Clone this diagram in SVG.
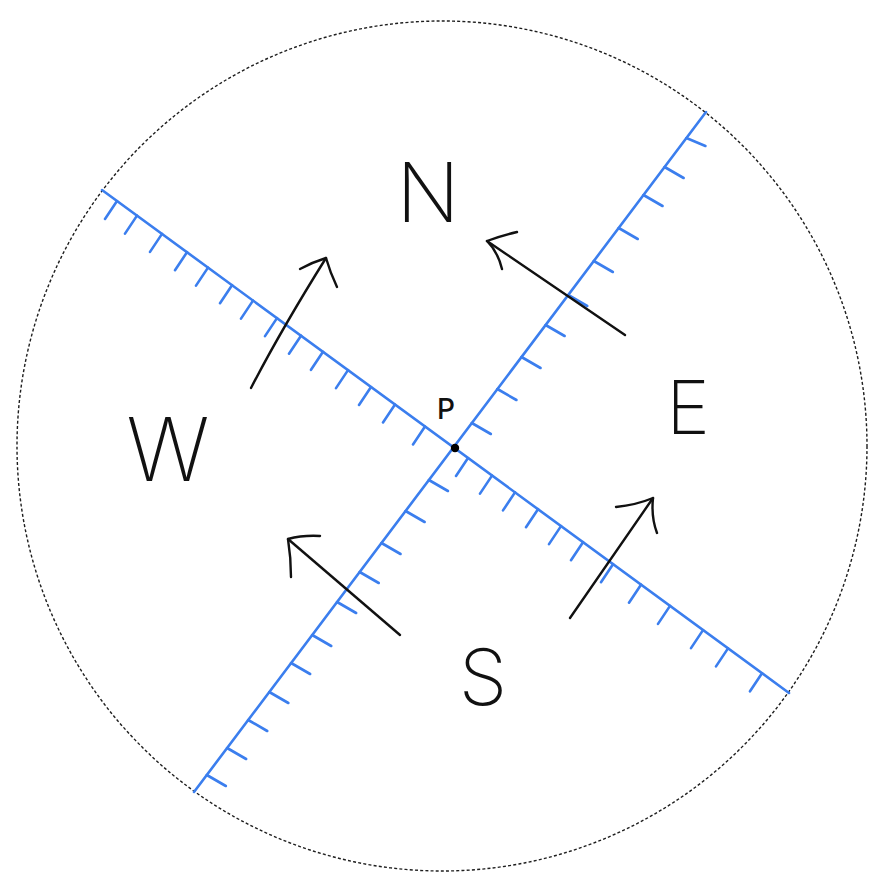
<svg xmlns="http://www.w3.org/2000/svg" width="883" height="886" viewBox="0 0 883 886">
<style>
.bound{fill:none;stroke:#1e1e1e;stroke-width:1.4;stroke-dasharray:3 2.2}
.fault{fill:none;stroke:#3b7eee;stroke-width:2.6;stroke-linecap:round;stroke-linejoin:round}
.arrow{fill:none;stroke:#111;stroke-width:2.4;stroke-linecap:round;stroke-linejoin:round}
.lbl{font-family:Inter,"Liberation Sans",sans-serif;font-weight:200;fill:#111;text-anchor:middle}
</style>
<rect width="883" height="886" fill="#fff"/>
<circle id="boundary" class="bound" cx="442" cy="446" r="425"/>
<g id="fault-nw-se">
<path class="fault" d="M102 190 L789 693"/>
<path class="fault" d="M117 201l-12 18M137 215.6l-12 18M162 233.9l-12 18M187 252.2l-12 18M208 267.6l-12 18M232 285.2l-12 18M253 300.6l-12 18M277 318.1l-12 18M301 335.7l-12 18M323 351.8l-12 18M348 370.1l-12 18M371 387l-12 18M395 404.5l-12 18M425 426.5l-12 18M468 458l-12 18M492 475.6l-12 18M515 492.4l-12 18M538 509.2l-12 18M561 526.1l-12 18M583 542.2l-12 18M613 564.2l-12 18M641 584.7l-12 18M670 605.9l-12 18M703 630.1l-12 18M728 648.4l-12 18M762 673.3l-12 18"/>
</g>
<g id="fault-ne-sw">
<path class="fault" d="M706 112 L194 792"/>
<path class="fault" d="M686.4 138l19 8M664.6 167l19 11M643.5 195l19 11M618.7 228l19 11M593.8 261l19 11M568.2 295l19 11M545.6 325l19 11M521.5 357l19 11M497.4 389l19 11M471.8 423l19 11M428.9 480l19 11M405.6 511l19 11M381.5 543l19 11M359.7 572l19 11M337.1 602l19 11M312.2 635l19 11M291.1 663l19 11M269.3 692l19 11M248.2 720l19 11M227.1 748l19 11M206.8 775l19 11"/>
</g>
<g id="point-p">
<circle cx="455" cy="448" r="4.2" fill="#000"/>
<text class="lbl" x="446" y="419" font-size="28" style="font-weight:500">P</text>
</g>
<g id="arrows">
<g id="arrow-ne-block"><path class="arrow" d="M625 335 L487 241"/><path class="arrow" d="M517 232 Q500 236 487 241 Q498 252 502 269"/></g>
<g id="arrow-nw-block"><path class="arrow" d="M251 388 Q281 330 326 258"/><path class="arrow" d="M300 269 Q313 262 326 258 Q330 272 337 287"/></g>
<g id="arrow-sw-block"><path class="arrow" d="M400 635 L288 539"/><path class="arrow" d="M320 536 Q303 535 288 539 Q291 558 291 577"/></g>
<g id="arrow-se-block"><path class="arrow" d="M570 618 L653 498"/><path class="arrow" d="M616 507 Q636 505 653 498 Q651 517 657 533"/></g>
</g>
<g id="label-n"><text class="lbl" x="428" y="222" font-size="83">N</text></g>
<g id="label-e"><text class="lbl" x="688" y="434" font-size="74">E</text></g>
<g id="label-w"><text class="lbl" x="168" y="481" font-size="88">W</text></g>
<g id="label-s"><text class="lbl" x="483" y="705" font-size="78">S</text></g>
</svg>
